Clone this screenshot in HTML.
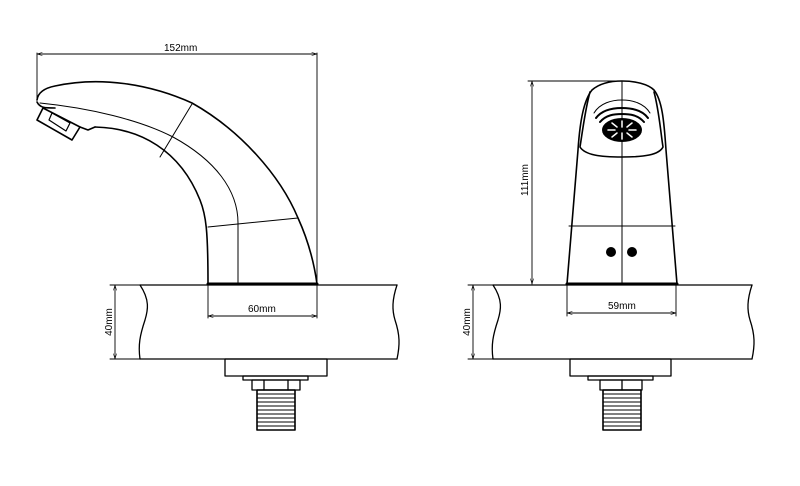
<!DOCTYPE html>
<html><head><style>
html,body{margin:0;padding:0;background:#fff;}
svg{display:block;}
text{font-family:"Liberation Sans",sans-serif;fill:#000;}
</style></head><body>
<svg width="800" height="486" viewBox="0 0 800 486" xmlns="http://www.w3.org/2000/svg">
<defs>
<marker id="a" viewBox="0 0 10 10" refX="10" refY="5" markerWidth="6" markerHeight="6" orient="auto-start-reverse"><path d="M0,2 L10,5 L0,8" fill="none" stroke="#000" stroke-width="1"/></marker>
</defs>
<g fill="none" stroke="#000" stroke-linecap="round" stroke-linejoin="round">
<!-- LEFT VIEW dims -->
<g stroke-width="0.9">
<line x1="37" y1="53" x2="37" y2="100"/>
<line x1="317" y1="53" x2="317" y2="285"/>
<line x1="37" y1="54" x2="317" y2="54" marker-start="url(#a)" marker-end="url(#a)"/>
<line x1="115" y1="285" x2="115" y2="359" marker-start="url(#a)" marker-end="url(#a)"/>
<line x1="110" y1="285" x2="140" y2="285"/>
<line x1="110" y1="359" x2="140" y2="359"/>
<line x1="208" y1="285" x2="208" y2="318"/>
<line x1="317" y1="285" x2="317" y2="318"/>
<line x1="208" y1="316" x2="317" y2="316" marker-start="url(#a)" marker-end="url(#a)"/>
</g>
<!-- spout -->
<g stroke-width="1.6">
<path d="M37,100 C38,92 45,88 55,86 C100,76 150,84 192,103 C240,130 280,175 298,218 C308,240 314,262 317,284"/>
<path d="M37,102 C40,108 45,108 55,108"/>
<path d="M95,127 C140,128 180,150 200,200 C206,215 208,230 208,284"/>
<path d="M208,284 L317,284" stroke-width="3"/>
<path d="M43,108 L80,127 L72,140 L37,120 Z"/>
<path d="M52,113 L70,123 L66,131 L49,120 Z" stroke-width="1.2"/>
<path d="M80,127 L88,130 L95,127"/>
</g>
<g stroke-width="1">
<path d="M40,103 C90,108 140,120 173,137 C215,160 238,190 238,223 L238,283"/>
<line x1="192" y1="104" x2="160" y2="157"/>
<line x1="208" y1="227" x2="298" y2="218"/>
</g>
<!-- left counter -->
<g stroke-width="1.3">
<line x1="140" y1="285" x2="397" y2="285"/>
<line x1="140" y1="359" x2="397" y2="359"/>
<path d="M140,285 C150,300 148,310 145,320 C140,335 138,345 140,359"/>
<path d="M397,285 C392,300 392,310 395,320 C400,335 400,345 397,359"/>
<rect x="225" y="359" width="102" height="17"/>
<rect x="243" y="376" width="65" height="4"/>
<rect x="252" y="380" width="48" height="10"/>
<line x1="264" y1="380" x2="264" y2="390"/>
<line x1="288" y1="380" x2="288" y2="390"/>
<rect x="257" y="390" width="38" height="40" stroke-width="1.6"/>
</g>
<g stroke-width="1.1">
<line x1="257" y1="394" x2="295" y2="394"/><line x1="257" y1="398" x2="295" y2="398"/><line x1="257" y1="402" x2="295" y2="402"/><line x1="257" y1="406" x2="295" y2="406"/><line x1="257" y1="410" x2="295" y2="410"/><line x1="257" y1="414" x2="295" y2="414"/><line x1="257" y1="418" x2="295" y2="418"/><line x1="257" y1="422" x2="295" y2="422"/><line x1="257" y1="426" x2="295" y2="426"/>
</g>
<!-- RIGHT VIEW dims -->
<g stroke-width="0.9">
<line x1="528" y1="81" x2="622" y2="81"/>
<line x1="532" y1="81" x2="532" y2="284" marker-start="url(#a)" marker-end="url(#a)"/>
<line x1="473" y1="285" x2="473" y2="359" marker-start="url(#a)" marker-end="url(#a)"/>
<line x1="468" y1="285" x2="493" y2="285"/>
<line x1="468" y1="359" x2="493" y2="359"/>
<line x1="567" y1="285" x2="567" y2="316"/>
<line x1="676" y1="285" x2="676" y2="316"/>
<line x1="567" y1="313" x2="676" y2="313" marker-start="url(#a)" marker-end="url(#a)"/>
</g>
<g stroke-width="1.6">
<path d="M567,284 L578,150 C580,120 584,100 592,90 C600,83 612,81 622,81 C635,81 648,84 654,90 C662,100 664,120 666,150 L677,284"/>
<path d="M567,284 L677,284" stroke-width="3"/>
<path d="M590,92 C585,110 582,135 580,147 C585,155 600,157 622,157 C644,157 659,155 663,147 C661,135 659,110 654,92"/>
</g>
<g stroke-width="1">
<line x1="622" y1="81" x2="622" y2="284"/>
<line x1="569" y1="226" x2="675" y2="226"/>
<path d="M594,113 C600,103 612,100 622,100 C632,100 644,103 650,113"/>
<path d="M596,118 C602,110 612,108 622,108 C632,108 642,110 648,118" stroke-width="2"/>
<path d="M600,122 C606,115 614,114 622,114 C630,114 638,115 644,122" stroke-width="2"/>
</g>
<ellipse cx="622" cy="130" rx="20" ry="12" fill="#000" stroke="none"/>
<g stroke="#fff" stroke-width="1.5">
<line x1="622" y1="121" x2="622" y2="127"/><line x1="622" y1="133" x2="622" y2="139"/>
<line x1="608" y1="130" x2="615" y2="130"/><line x1="629" y1="130" x2="636" y2="130"/>
<line x1="612" y1="123" x2="617" y2="127"/><line x1="627" y1="133" x2="632" y2="137"/>
<line x1="632" y1="123" x2="627" y2="127"/><line x1="617" y1="133" x2="612" y2="137"/>
</g>
<circle cx="611" cy="252" r="5" fill="#000" stroke="none"/>
<circle cx="632" cy="252" r="5" fill="#000" stroke="none"/>
<!-- right counter -->
<g stroke-width="1.3">
<line x1="493" y1="285" x2="752" y2="285"/>
<line x1="493" y1="359" x2="752" y2="359"/>
<path d="M493,285 C503,300 501,310 498,320 C493,335 491,345 493,359"/>
<path d="M752,285 C747,300 747,310 750,320 C755,335 755,345 752,359"/>
<rect x="570" y="359" width="101" height="17"/>
<rect x="588" y="376" width="65" height="4"/>
<rect x="600" y="380" width="42" height="10"/>
<line x1="622" y1="380" x2="622" y2="390"/>
<rect x="603" y="390" width="38" height="40" stroke-width="1.6"/>
</g>
<g stroke-width="1.1">
<line x1="603" y1="394" x2="641" y2="394"/><line x1="603" y1="398" x2="641" y2="398"/><line x1="603" y1="402" x2="641" y2="402"/><line x1="603" y1="406" x2="641" y2="406"/><line x1="603" y1="410" x2="641" y2="410"/><line x1="603" y1="414" x2="641" y2="414"/><line x1="603" y1="418" x2="641" y2="418"/><line x1="603" y1="422" x2="641" y2="422"/><line x1="603" y1="426" x2="641" y2="426"/>
</g>
</g>
<text x="164" y="51" font-size="10">152mm</text>
<text x="248" y="312" font-size="10">60mm</text>
<text x="608" y="309" font-size="10">59mm</text>
<text transform="translate(112,322) rotate(-90)" font-size="10" text-anchor="middle">40mm</text>
<text transform="translate(470,322) rotate(-90)" font-size="10" text-anchor="middle">40mm</text>
<text transform="translate(528,180) rotate(-90)" font-size="10" text-anchor="middle">111mm</text>
</svg>
</body></html>
